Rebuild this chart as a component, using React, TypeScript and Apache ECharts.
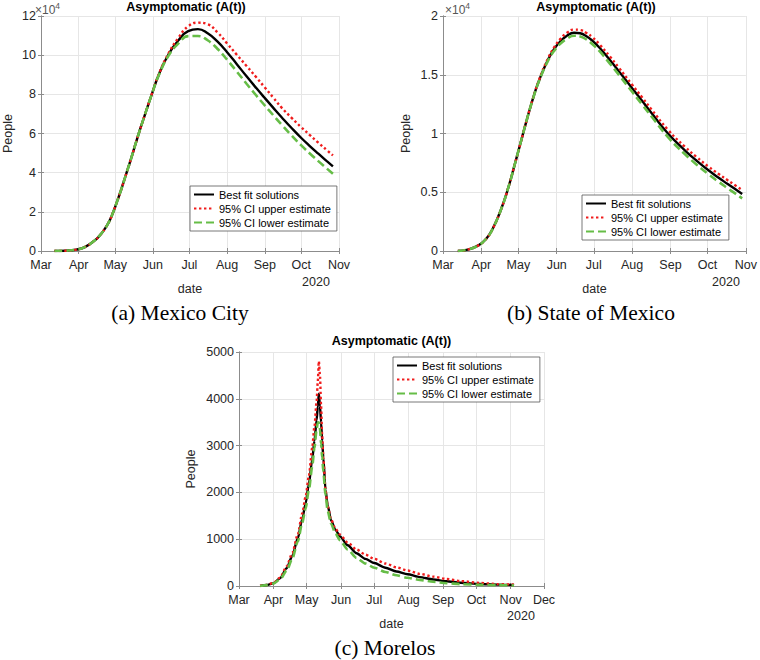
import React, { useEffect, useRef } from 'react';
import * as echarts from 'echarts';

// Days counted from 1 March 2020
const monthTicks = [0, 31, 61, 92, 122, 153, 184, 214, 245, 275];
const monthLabels = ['Mar', 'Apr', 'May', 'Jun', 'Jul', 'Aug', 'Sep', 'Oct', 'Nov', 'Dec'];

const seriesNames = ['Best fit solutions', '95% CI upper estimate', '95% CI lower estimate'];
const captions = ['(a) Mexico City', '(b) State of Mexico', '(c) Morelos'];

// (a) Mexico City
const daysA = [11, 20, 29, 36, 44, 48, 52, 56, 59, 62, 66, 70, 74, 79, 85, 91, 97, 105, 113, 121, 129, 137, 145, 153, 161, 169, 177, 184, 191, 198, 206, 214, 221, 228, 235, 240];
const bestA = [0, 150, 700, 2000, 5300, 7700, 10900, 15000, 19300, 24300, 31500, 39300, 47000, 57300, 68800, 79900, 90300, 100600, 107600, 112300, 113300, 111200, 107000, 101500, 95400, 89200, 83200, 78100, 73100, 68200, 62800, 57700, 53600, 49700, 45900, 43200];
const upperA = [0, 150, 700, 2000, 5300, 7700, 10900, 15000, 19300, 24300, 31500, 39300, 47000, 57300, 68800, 79950, 90500, 101100, 108900, 114700, 116600, 115800, 111700, 106000, 100200, 94500, 88700, 83500, 78300, 73100, 68000, 63200, 59200, 55300, 51500, 48800];
const lowerA = [0, 150, 700, 2000, 5300, 7700, 10900, 15000, 19300, 24300, 31500, 39300, 47000, 57300, 68800, 79800, 90000, 99900, 106000, 109700, 109800, 107600, 103300, 97700, 91600, 85400, 79400, 74300, 69300, 64400, 59000, 53900, 49800, 45900, 42100, 39400];

// (b) State of Mexico
const daysB = [12, 20, 29, 35, 40, 47, 53, 58, 63, 68, 73, 78, 85, 90, 95, 100, 106, 111, 116, 121, 127, 135, 142, 153, 161, 169, 182, 196, 205, 215, 223, 230, 236, 242];
const bestB = [0, 120, 500, 1050, 1850, 3550, 5450, 7350, 9300, 11250, 13050, 14600, 16300, 17200, 17850, 18300, 18580, 18530, 18280, 17880, 17250, 16250, 15330, 13850, 12780, 11700, 10000, 8530, 7700, 6850, 6230, 5720, 5290, 4860];
const upperB = [0, 120, 500, 1050, 1850, 3550, 5450, 7350, 9300, 11250, 13070, 14650, 16400, 17350, 18050, 18550, 18840, 18800, 18560, 18170, 17540, 16550, 15630, 14150, 13080, 12000, 10310, 8840, 8010, 7160, 6550, 6040, 5610, 5180];
const lowerB = [0, 120, 500, 1050, 1850, 3550, 5450, 7350, 9300, 11250, 13030, 14550, 16200, 17050, 17650, 18050, 18320, 18260, 18000, 17590, 16960, 15950, 15030, 13550, 12480, 11400, 9690, 8210, 7370, 6510, 5880, 5360, 4920, 4480];

// (c) Morelos
const daysC = [19, 25, 31, 37, 43, 48, 53, 57, 60, 63, 66, 68, 70, 71, 72, 73, 74, 75, 76, 78, 80, 83, 87, 91, 98, 106, 114, 122, 132, 142, 152, 163, 175, 187, 200, 217, 233, 248];
const bestC = [0, 20, 60, 165, 380, 640, 1020, 1430, 1760, 2180, 2700, 3100, 3550, 3830, 4110, 3850, 3500, 3100, 2750, 2050, 1720, 1400, 1200, 1060, 870, 700, 580, 490, 390, 310, 250, 190, 140, 100, 70, 43, 30, 20];
const upperC = [0, 22, 65, 180, 420, 700, 1100, 1550, 1900, 2350, 2950, 3400, 3950, 4350, 4800, 4500, 3850, 3200, 2750, 2050, 1700, 1420, 1220, 1100, 930, 780, 670, 580, 480, 400, 330, 260, 200, 150, 105, 65, 40, 30];
const lowerC = [0, 18, 50, 140, 330, 580, 950, 1350, 1650, 2050, 2550, 2950, 3350, 3480, 3500, 3350, 3050, 2750, 2450, 1950, 1600, 1330, 1120, 980, 780, 600, 480, 390, 300, 230, 175, 130, 90, 60, 40, 25, 18, 12];

const SANS = 'Liberation Sans, Arial, Helvetica, sans-serif';
const SERIF = 'Liberation Serif, Times New Roman, serif';
const AX = '#8c8c8c';
const TXT = '#262626';

const grids = [
  { left: 33, top: 16, width: 306, height: 235 },
  { left: 443, top: 16, width: 305, height: 235 },
  { left: 239, top: 352, width: 305, height: 234 },
];
const xMax = [245, 245, 275];
const yMax = [120000, 20000, 5000];
const yStep = [20000, 5000, 1000];
const yLabel = [
  (v: number) => String(v / 10000),
  (v: number) => String(v / 10000),
  (v: number) => String(v),
];
const yNameGap = [27, 31, 42];
const legendPos = [[190, 186], [582, 195], [393, 357]];

export default function App() {
  const ref = useRef<HTMLDivElement>(null);
  useEffect(() => {
    if (!ref.current) return;
    const chart = echarts.init(ref.current, undefined, { renderer: 'svg' });
    const xAxes: any[] = [];
    const yAxes: any[] = [];
    for (let i = 0; i < 3; i++) {
      const ticks = monthTicks.filter((t) => t <= xMax[i]);
      const base = {
        type: 'value',
        gridIndex: i,
        min: 0,
        max: xMax[i],
        axisLine: { show: true, lineStyle: { color: AX, width: 1 } },
        axisTick: { show: true, inside: true, length: 3, customValues: ticks, lineStyle: { color: AX } },
      };
      xAxes.push({
        ...base,
        position: 'bottom',
        name: 'date',
        nameLocation: 'middle',
        nameGap: 31,
        nameTextStyle: { fontFamily: SANS, fontSize: 12.5, color: TXT },
        axisLabel: {
          customValues: ticks,
          margin: 7,
          fontFamily: SANS,
          fontSize: 12.5,
          color: TXT,
          formatter: (v: number) => monthLabels[monthTicks.indexOf(Math.round(v))] || '',
        },
        splitLine: { show: true, lineStyle: { color: '#e6e6e6', width: 1 } },
      });
      xAxes.push({
        ...base,
        position: 'top',
        axisLabel: { show: false },
        splitLine: { show: false },
      });
      const ybase = {
        type: 'value',
        gridIndex: i,
        min: 0,
        max: yMax[i],
        interval: yStep[i],
        axisLine: { show: true, lineStyle: { color: AX, width: 1 } },
        axisTick: { show: true, inside: true, length: 3, lineStyle: { color: AX } },
      };
      yAxes.push({
        ...ybase,
        position: 'left',
        name: 'People',
        nameLocation: 'middle',
        nameGap: yNameGap[i],
        nameTextStyle: { fontFamily: SANS, fontSize: 12.5, color: TXT },
        axisLabel: { margin: 5, fontFamily: SANS, fontSize: 12.5, color: TXT, formatter: yLabel[i] },
        splitLine: { show: true, lineStyle: { color: '#e6e6e6', width: 1 } },
      });
      yAxes.push({
        ...ybase,
        position: 'right',
        axisLabel: { show: false },
        splitLine: { show: false },
      });
    }

    const sets = [
      [daysA, bestA, upperA, lowerA],
      [daysB, bestB, upperB, lowerB],
      [daysC, bestC, upperC, lowerC],
    ];
    const styles = [
      { color: '#000000', width: 2.4, type: 'solid' },
      { color: '#f01c1c', width: 2.4, type: [2.4, 2.6] },
      { color: '#66bd47', width: 2.6, type: [8, 4] },
    ];
    const series: any[] = [];
    sets.forEach((s, gi) => {
      const days = s[0] as number[];
      for (let k = 0; k < 3; k++) {
        const vals = s[k + 1] as number[];
        series.push({
          type: 'line',
          name: seriesNames[k],
          xAxisIndex: 2 * gi,
          yAxisIndex: 2 * gi,
          data: days.map((d, j) => [d, vals[j]]),
          symbol: 'none',
          showSymbol: false,
          smooth: gi === 2 ? 0.25 : 0.5,
          smoothMonotone: gi === 2 ? 'x' : undefined,
          color: styles[k].color,
          lineStyle: { ...styles[k], cap: 'butt' },
          emphasis: { disabled: true },
        });
      }
    });

    const legends = legendPos.map((p) => ({
      data: seriesNames,
      orient: 'vertical',
      left: p[0],
      top: p[1],
      itemWidth: 20,
      itemHeight: 12,
      itemGap: 3,
      padding: [3, 6, 3, 3],
      backgroundColor: '#ffffff',
      borderColor: '#555555',
      borderWidth: 0.8,
      borderRadius: 0,
      selectedMode: false,
      itemStyle: { opacity: 0 },
      textStyle: { fontFamily: SANS, fontSize: 11, color: '#000' },
    }));

    const graphic: any[] = [];
    const titleXY = [[186, 7], [596, 7], [391.5, 341]];
    titleXY.forEach((t) => {
      graphic.push({
        type: 'text', x: t[0], y: t[1],
        style: { text: 'Asymptomatic (A(t))', fontFamily: SANS, fontWeight: 'bold', fontSize: 12.5, fill: '#000', align: 'center', verticalAlign: 'middle' },
      });
    });
    const expXY = [[35, 10], [445, 10]];
    expXY.forEach((t) => {
      graphic.push({
        type: 'text', x: t[0], y: t[1],
        style: {
          text: '×10{s|4}', fontFamily: SANS, fontSize: 12, fill: '#555', align: 'left', verticalAlign: 'middle',
          rich: { s: { fontSize: 8.5, fontFamily: SANS, fill: '#555', verticalAlign: 'top', padding: [0, 0, 8, 0] } },
        },
      });
    });
    const yearXY = [[316, 282], [726, 282], [521, 616]];
    yearXY.forEach((t) => {
      graphic.push({
        type: 'text', x: t[0], y: t[1],
        style: { text: '2020', fontFamily: SANS, fontSize: 12.5, fill: TXT, align: 'center', verticalAlign: 'middle' },
      });
    });
    const capXY = [[180, 313], [591, 313], [385, 648]];
    capXY.forEach((t, i) => {
      graphic.push({
        type: 'text', x: t[0], y: t[1],
        style: { text: captions[i], fontFamily: SERIF, fontSize: 21.5, fill: '#000', align: 'center', verticalAlign: 'middle' },
      });
    });

    chart.setOption({
      animation: false,
      backgroundColor: '#ffffff',
      grid: grids.map((g) => ({ ...g, show: false, containLabel: false })),
      xAxis: xAxes,
      yAxis: yAxes,
      legend: legends,
      series,
      graphic,
    });
    return () => chart.dispose();
  }, []);
  return (
    <div
      ref={ref}
      style={{ position: 'fixed', left: 0, top: 0, width: 760, height: 660, background: '#fff' }}
    />
  );
}
